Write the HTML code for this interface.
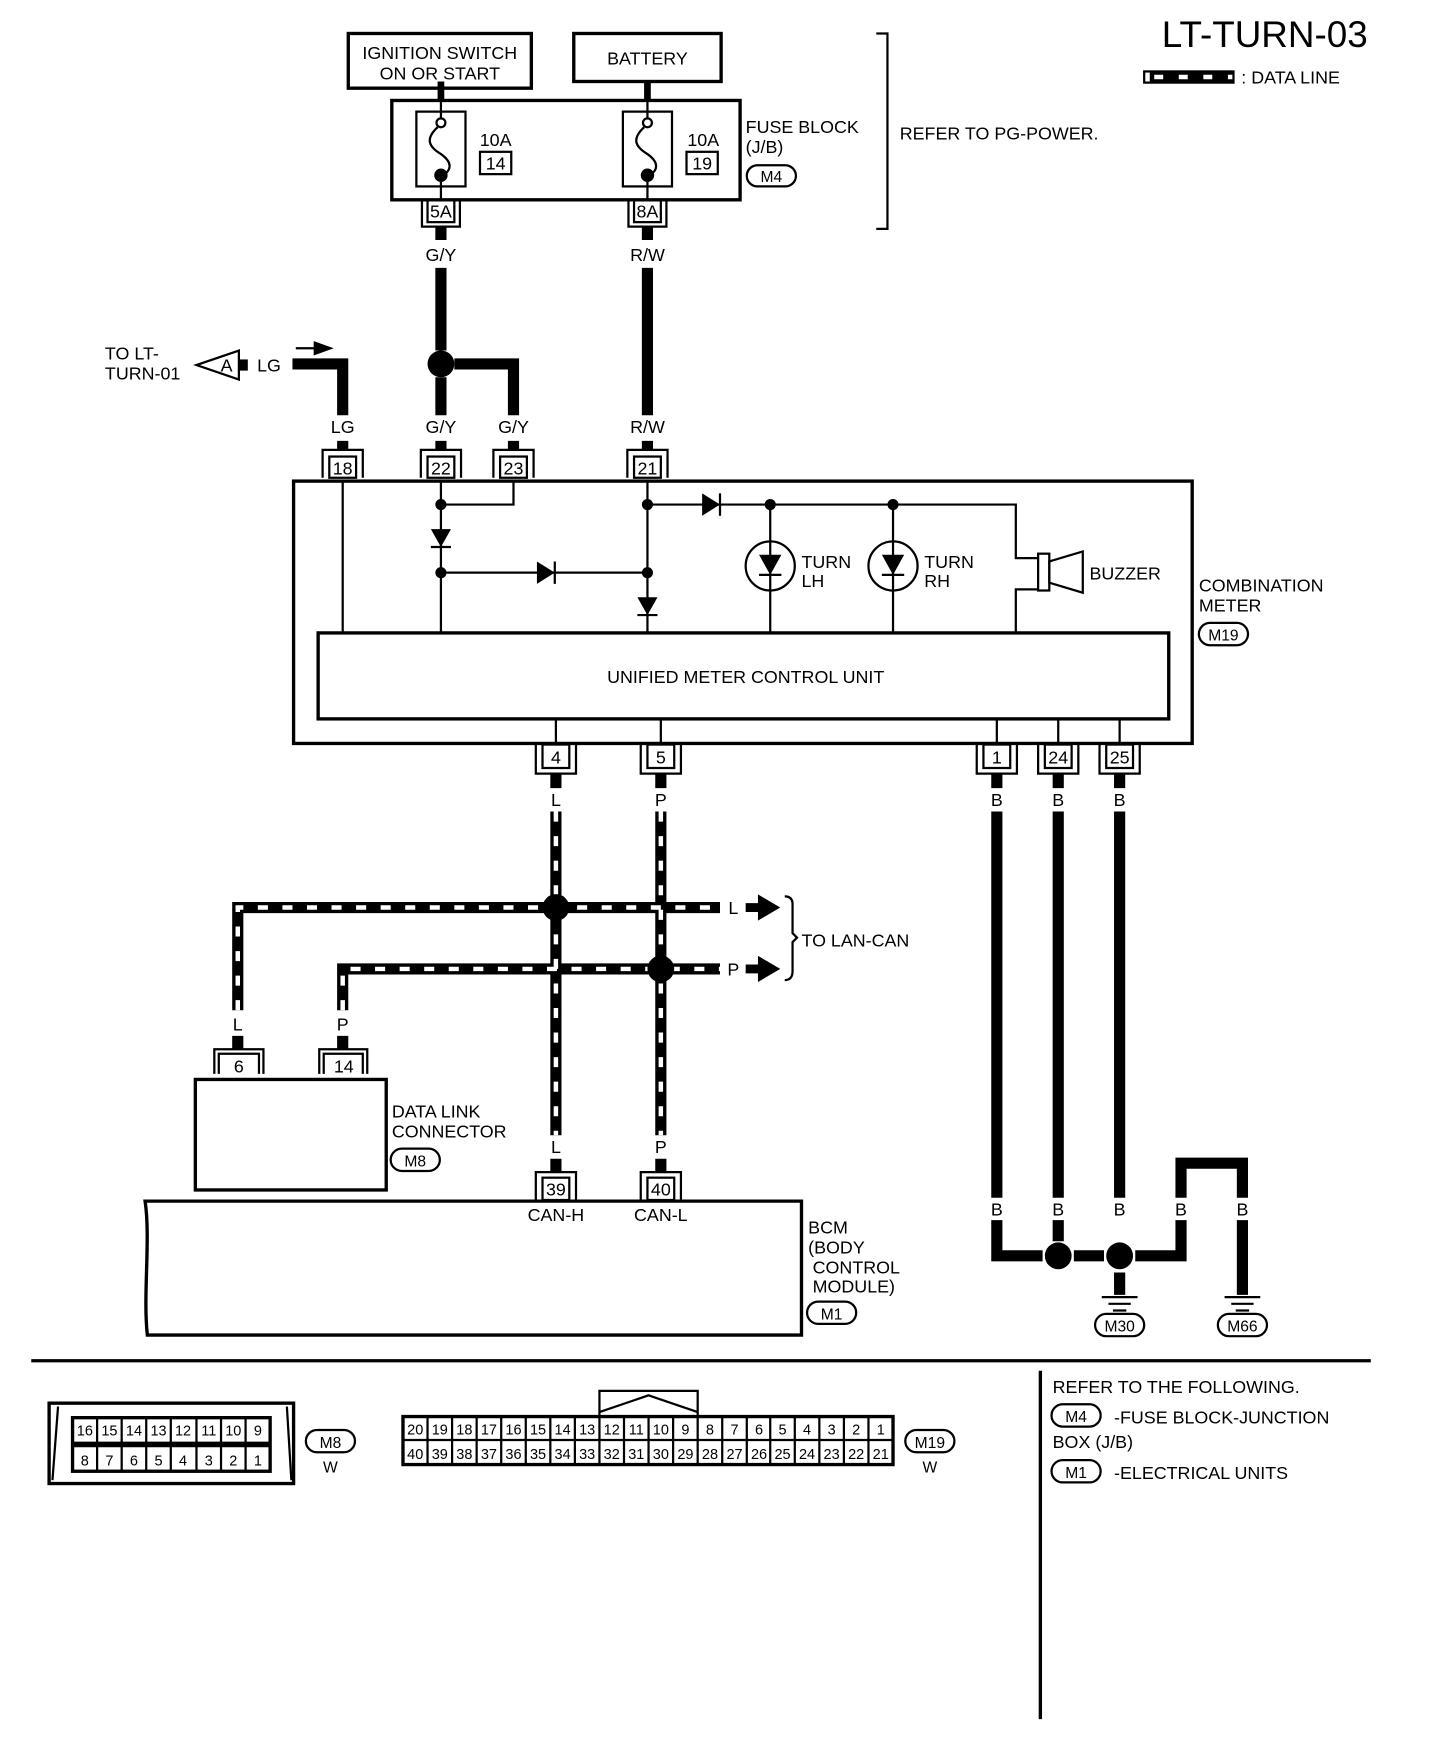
<!DOCTYPE html>
<html><head><meta charset="utf-8"><style>
html,body{margin:0;padding:0;background:#fff;}
svg{display:block;}
text{font-family:"Liberation Sans",sans-serif;fill:#000;}
</style></head><body>
<svg width="1440" height="1752" viewBox="0 0 1290 1569.5" preserveAspectRatio="none" xmlns="http://www.w3.org/2000/svg">
<g fill="none" stroke="#000" stroke-width="2">
<rect x="312" y="30" width="164" height="49" stroke-width="3"/>
<rect x="514" y="30" width="132" height="43" stroke-width="3"/>
<rect x="351" y="90" width="312" height="89" stroke-width="3"/>
<rect x="373" y="100" width="44" height="67"/>
<rect x="558" y="100" width="44" height="67"/>
<rect x="430" y="136" width="28" height="20"/>
<rect x="615" y="136" width="28" height="20"/>
<path d="M395 73V90M580 73V90" stroke-width="6"/>
<path d="M395 90V106M395 157V179M580 90V106M580 157V179"/>
<circle cx="395" cy="110" r="4" fill="#fff"/><circle cx="580" cy="110" r="4" fill="#fff"/>
<path d="M392 114C380 125 385 132 395 138C405 145 405 152 397 157"/>
<path d="M577 114C565 125 570 132 580 138C590 145 590 152 582 157"/>
<circle cx="395" cy="157" r="5" fill="#000"/><circle cx="580" cy="157" r="5" fill="#000"/>
<rect x="383" y="179" width="24" height="20"/><path d="M378 179V203H412V179"/>
<rect x="568" y="179" width="24" height="20"/><path d="M563 179V203H597V179"/>
<path d="M785 30H795V205H785"/>
<g stroke-width="10">
<path d="M395 203V215M395 240V314M395 338V372"/>
<path d="M580 203V215M580 240V372"/>
<path d="M407 326H460V372"/>
<path d="M262 326H307V372"/>
<path d="M214 327H222"/>
</g>
<circle cx="395" cy="326" r="12" fill="#000" stroke="none"/>
<path d="M265 312H285"/><path d="M282 307L296 312L282 317Z" fill="#000"/>
<path d="M214 314L176 327L214 340Z" fill="#fff"/>
<g>
<path d="M307 395V404M395 395V404M460 395V404M580 395V404" stroke-width="10"/>
<rect x="295" y="409" width="24" height="19"/><path d="M289 428V403H325V428"/>
<rect x="383" y="409" width="24" height="19"/><path d="M377 428V403H413V428"/>
<rect x="448" y="409" width="24" height="19"/><path d="M442 428V403H478V428"/>
<rect x="568" y="409" width="24" height="19"/><path d="M562 428V403H598V428"/>
</g>
<rect x="263" y="431" width="805" height="235" stroke-width="3"/>
<rect x="285" y="567" width="762" height="77" stroke-width="3"/>
<path d="M307 431V567M395 431V567M395 452H460V431M395 513H580M580 431V567M580 452H910V500H930M930 528H910V567M690 452V567M800 452V567"/>
<circle cx="690" cy="507" r="22"/><circle cx="800" cy="507" r="22"/>
<rect x="930" y="496" width="10" height="33"/><path d="M940 503L970 494V531L940 522Z"/>
<rect x="486" y="667" width="24" height="21"/><path d="M480 667V693H516V667"/>
<rect x="580" y="667" width="24" height="21"/><path d="M574 667V693H610V667"/>
<rect x="881" y="667" width="24" height="21"/><path d="M875 667V693H911V667"/>
<rect x="936" y="667" width="24" height="21"/><path d="M930 667V693H966V667"/>
<rect x="991" y="667" width="24" height="21"/><path d="M985 667V693H1021V667"/>
<path d="M498 644V667M592 644V667M893 644V667M948 644V667M1003 644V667"/>
<path d="M498 693V706M592 693V706M893 693V706M948 693V706M1003 693V706" stroke-width="10"/>
<g stroke-width="10">
<path d="M498 727V1017M592 727V1017M213 905V813H645M307 905V868H645"/>
</g>
<g stroke="#fff" stroke-width="4" stroke-dasharray="9 13">
<path d="M498 727V1017M592 727V1017M213 905V813H645M307 905V868H645"/>
</g>
<g stroke-width="10"><path d="M1030 69H1105"/></g>
<path d="M1030 69H1105" stroke="#fff" stroke-width="4" stroke-dasharray="8 14" stroke-dashoffset="-4"/>
<rect x="1025" y="64" width="80" height="10"/>
<circle cx="498" cy="813" r="12" fill="#000" stroke="none"/>
<circle cx="592" cy="868" r="12" fill="#000" stroke="none"/>
<path d="M668 813H682M668 868H682" stroke-width="8"/>
<path d="M680 803L697 813L680 823ZM680 858L697 868L680 878Z" fill="#000"/>
<path d="M703 803Q710 803 710 810V836L714 840L710 844V870Q710 878 703 878"/>
<path d="M192 962V940H236V962M196 962V944H232V962M286 962V940H329V962M290 962V944H325V962"/>
<path d="M213 928V940M307 928V940M498 1038V1050M592 1038V1050" stroke-width="10"/>
<rect x="175" y="967" width="171" height="99" stroke-width="3"/>
<rect x="486" y="1055" width="24" height="20"/><path d="M480 1075V1050H516V1075"/>
<rect x="580" y="1055" width="24" height="20"/><path d="M574 1075V1050H610V1075"/>
<path d="M718 1076H130C135 1110 128 1160 132 1196H718Z" stroke-width="3"/>
<g stroke-width="10">
<path d="M893 727V1073M948 727V1073M1003 727V1073"/>
<path d="M893 1093V1125H934M948 1093V1112M962 1125H989M1017 1125H1058V1093M1058 1073V1042H1113V1073M1113 1093V1160M1003 1140V1160"/>
</g>
<circle cx="948" cy="1125" r="12" fill="#000" stroke="none"/>
<circle cx="1003" cy="1125" r="12" fill="#000" stroke="none"/>
<path d="M987 1162H1019M993 1168H1013M997 1174H1009M1097 1162H1129M1103 1168H1123M1107 1174H1119"/>
<path d="M28 1219H1228" stroke-width="3"/>
<path d="M932 1228V1540" stroke-width="3"/>
<rect x="44" y="1257" width="219" height="72" stroke-width="3"/>
<path d="M52 1260L47 1326M257 1260L261 1326"/>
<rect x="65" y="1270" width="177" height="48" stroke-width="3"/>
<path d="M65 1294H242" stroke-width="5"/>
<path d="M87 1270V1318M109 1270V1318M131 1270V1318M153 1270V1318M176 1270V1318M198 1270V1318M220 1270V1318"/>
<rect x="361" y="1269" width="439" height="43" stroke-width="3"/>
<path d="M361 1290H800" stroke-width="2"/>
<path d="M383 1269V1312M405 1269V1312M427 1269V1312M449 1269V1312M471 1269V1312M493 1269V1312M515 1269V1312M537 1269V1312M559 1269V1312M581 1269V1312M603 1269V1312M625 1269V1312M647 1269V1312M669 1269V1312M690 1269V1312M712 1269V1312M734 1269V1312M756 1269V1312M778 1269V1312"/>
<path d="M537 1269V1246H625V1269M537 1265L581 1250L625 1265"/>
<g stroke-width="2">
<rect x="669" y="148" width="44" height="19" rx="9.5"/>
<rect x="1074" y="558" width="44" height="20" rx="10"/>
<rect x="350" y="1029" width="44" height="20" rx="10"/>
<rect x="723" y="1166" width="44" height="20" rx="10"/>
<rect x="981" y="1177" width="44" height="20" rx="10"/>
<rect x="1091" y="1177" width="44" height="20" rx="10"/>
<rect x="274" y="1281" width="44" height="20" rx="10"/>
<rect x="811" y="1281" width="44" height="20" rx="10"/>
<rect x="942" y="1258" width="44" height="20" rx="10"/>
<rect x="942" y="1308" width="44" height="20" rx="10"/>
</g>
</g>
<g fill="#000" stroke="none">
<path d="M386 474H404L395 490Z M481 503V523L497 513Z M571 535H589L580 551Z M629 442V462L645 452Z M680 497H700L690 515Z M790 497H810L800 515Z"/>
<path d="M386 490H404M497 503V523M571 551H589M645 442V462M680 515H700M790 515H810" stroke="#000" stroke-width="2"/>
<circle cx="395" cy="452" r="5"/><circle cx="395" cy="513" r="5"/><circle cx="580" cy="452" r="5"/><circle cx="580" cy="513" r="5"/><circle cx="690" cy="452" r="5"/><circle cx="800" cy="452" r="5"/>
</g>
<g font-size="16">
<text x="1133" y="42" font-size="33" text-anchor="middle">LT-TURN-03</text>
<text x="1112" y="75">: DATA LINE</text>
<text x="394" y="53" text-anchor="middle">IGNITION SWITCH</text>
<text x="394" y="71" text-anchor="middle">ON OR START</text>
<text x="580" y="58" text-anchor="middle">BATTERY</text>
<text x="444" y="131" text-anchor="middle">10A</text><text x="444" y="152" text-anchor="middle">14</text>
<text x="630" y="131" text-anchor="middle">10A</text><text x="629" y="152" text-anchor="middle">19</text>
<text x="668" y="119">FUSE BLOCK</text><text x="668" y="137">(J/B)</text>
<text x="691" y="163" text-anchor="middle" font-size="14">M4</text>
<text x="806" y="125">REFER TO PG-POWER.</text>
<text x="395" y="195" text-anchor="middle">5A</text><text x="580" y="195" text-anchor="middle">8A</text>
<text x="395" y="234" text-anchor="middle">G/Y</text><text x="580" y="234" text-anchor="middle">R/W</text>
<text x="94" y="322">TO LT-</text><text x="94" y="340">TURN-01</text>
<text x="203" y="333" text-anchor="middle">A</text><text x="241" y="333" text-anchor="middle">LG</text>
<text x="307" y="388" text-anchor="middle">LG</text><text x="395" y="388" text-anchor="middle">G/Y</text>
<text x="460" y="388" text-anchor="middle">G/Y</text><text x="580" y="388" text-anchor="middle">R/W</text>
<text x="307" y="425" text-anchor="middle">18</text><text x="395" y="425" text-anchor="middle">22</text>
<text x="460" y="425" text-anchor="middle">23</text><text x="580" y="425" text-anchor="middle">21</text>
<text x="718" y="509">TURN</text><text x="718" y="526">LH</text>
<text x="828" y="509">TURN</text><text x="828" y="526">RH</text>
<text x="976" y="519">BUZZER</text>
<text x="1074" y="530">COMBINATION</text><text x="1074" y="548">METER</text>
<text x="1096" y="574" text-anchor="middle" font-size="14">M19</text>
<text x="668" y="612" text-anchor="middle">UNIFIED METER CONTROL UNIT</text>
<text x="498" y="684" text-anchor="middle">4</text><text x="592" y="684" text-anchor="middle">5</text>
<text x="893" y="684" text-anchor="middle">1</text><text x="948" y="684" text-anchor="middle">24</text><text x="1003" y="684" text-anchor="middle">25</text>
<text x="498" y="722" text-anchor="middle">L</text><text x="592" y="722" text-anchor="middle">P</text>
<text x="893" y="722" text-anchor="middle">B</text><text x="948" y="722" text-anchor="middle">B</text><text x="1003" y="722" text-anchor="middle">B</text>
<text x="657" y="819" text-anchor="middle">L</text><text x="657" y="874" text-anchor="middle">P</text>
<text x="718" y="848">TO LAN-CAN</text>
<text x="213" y="923" text-anchor="middle">L</text><text x="307" y="923" text-anchor="middle">P</text>
<text x="214" y="961" text-anchor="middle">6</text><text x="308" y="961" text-anchor="middle">14</text>
<text x="351" y="1001">DATA LINK</text><text x="351" y="1019">CONNECTOR</text>
<text x="372" y="1045" text-anchor="middle" font-size="14">M8</text>
<text x="498" y="1033" text-anchor="middle">L</text><text x="592" y="1033" text-anchor="middle">P</text>
<text x="498" y="1071" text-anchor="middle">39</text><text x="592" y="1071" text-anchor="middle">40</text>
<text x="498" y="1094" text-anchor="middle">CAN-H</text><text x="592" y="1094" text-anchor="middle">CAN-L</text>
<text x="724" y="1105">BCM</text><text x="724" y="1123">(BODY</text><text x="728" y="1141">CONTROL</text><text x="728" y="1158">MODULE)</text>
<text x="745" y="1182" text-anchor="middle" font-size="14">M1</text>
<text x="893" y="1089" text-anchor="middle">B</text><text x="948" y="1089" text-anchor="middle">B</text><text x="1003" y="1089" text-anchor="middle">B</text>
<text x="1058" y="1089" text-anchor="middle">B</text><text x="1113" y="1089" text-anchor="middle">B</text>
<text x="1003" y="1193" text-anchor="middle" font-size="14">M30</text>
<text x="1113" y="1193" text-anchor="middle" font-size="14">M66</text>
<text x="943" y="1248">REFER TO THE FOLLOWING.</text>
<text x="964" y="1274" text-anchor="middle" font-size="14">M4</text>
<text x="998" y="1275">-FUSE BLOCK-JUNCTION</text>
<text x="943" y="1297">BOX (J/B)</text>
<text x="964" y="1324" text-anchor="middle" font-size="14">M1</text>
<text x="998" y="1325">-ELECTRICAL UNITS</text>
<text x="296" y="1297" text-anchor="middle" font-size="14">M8</text><text x="296" y="1319" text-anchor="middle" font-size="14">W</text>
<text x="833" y="1297" text-anchor="middle" font-size="14">M19</text><text x="833" y="1319" text-anchor="middle" font-size="14">W</text>
</g>
<g font-size="13" text-anchor="middle">
<text x="76" y="1286">16</text><text x="98" y="1286">15</text><text x="120" y="1286">14</text><text x="142" y="1286">13</text><text x="164" y="1286">12</text><text x="187" y="1286">11</text><text x="209" y="1286">10</text><text x="231" y="1286">9</text>
<text x="76" y="1313">8</text><text x="98" y="1313">7</text><text x="120" y="1313">6</text><text x="142" y="1313">5</text><text x="164" y="1313">4</text><text x="187" y="1313">3</text><text x="209" y="1313">2</text><text x="231" y="1313">1</text>
<text x="372" y="1285">20</text><text x="394" y="1285">19</text><text x="416" y="1285">18</text><text x="438" y="1285">17</text><text x="460" y="1285">16</text><text x="482" y="1285">15</text><text x="504" y="1285">14</text><text x="526" y="1285">13</text><text x="548" y="1285">12</text><text x="570" y="1285">11</text><text x="592" y="1285">10</text><text x="614" y="1285">9</text><text x="636" y="1285">8</text><text x="658" y="1285">7</text><text x="680" y="1285">6</text><text x="701" y="1285">5</text><text x="723" y="1285">4</text><text x="745" y="1285">3</text><text x="767" y="1285">2</text><text x="789" y="1285">1</text>
<text x="372" y="1307">40</text><text x="394" y="1307">39</text><text x="416" y="1307">38</text><text x="438" y="1307">37</text><text x="460" y="1307">36</text><text x="482" y="1307">35</text><text x="504" y="1307">34</text><text x="526" y="1307">33</text><text x="548" y="1307">32</text><text x="570" y="1307">31</text><text x="592" y="1307">30</text><text x="614" y="1307">29</text><text x="636" y="1307">28</text><text x="658" y="1307">27</text><text x="680" y="1307">26</text><text x="701" y="1307">25</text><text x="723" y="1307">24</text><text x="745" y="1307">23</text><text x="767" y="1307">22</text><text x="789" y="1307">21</text>
</g>
</svg>
</body></html>
